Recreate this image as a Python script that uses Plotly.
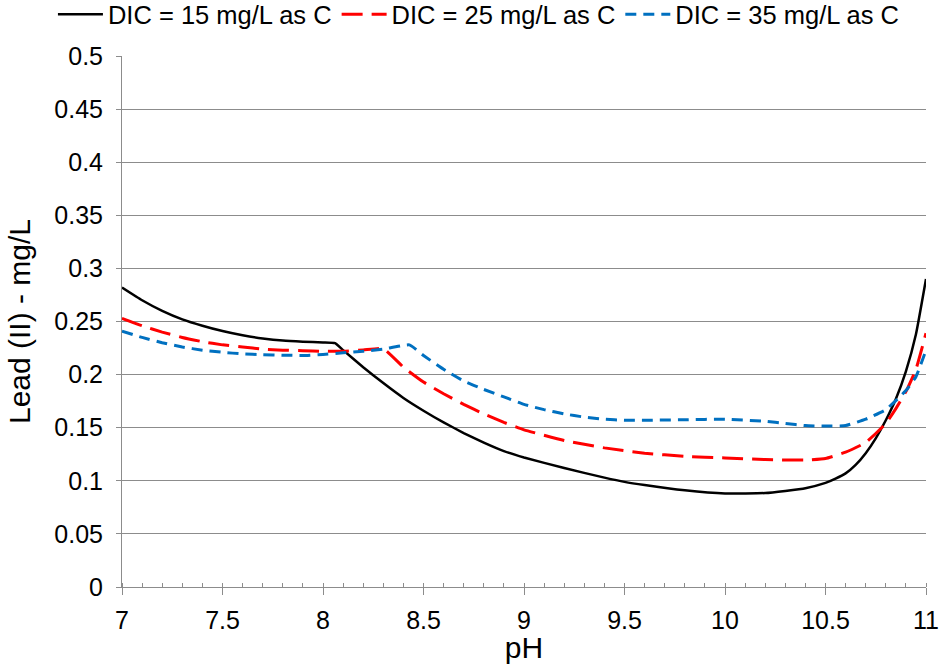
import plotly.graph_objects as go

ph_15 = [7.0, 7.1, 7.2, 7.3, 7.4, 7.5, 7.6, 7.7, 7.8, 7.9, 8.0, 8.06, 8.1, 8.2, 8.3, 8.4, 8.5, 8.6, 8.7,
         8.8, 8.9, 9.0, 9.2, 9.4, 9.5, 9.6, 9.8, 10.0, 10.2, 10.3, 10.4, 10.5, 10.55, 10.6, 10.65, 10.7,
         10.75, 10.8, 10.85, 10.9, 10.95, 11.0]
pb_15 = [0.282, 0.270, 0.260, 0.252, 0.246, 0.241, 0.237, 0.234, 0.232, 0.231, 0.2303, 0.2296, 0.223,
         0.207, 0.192, 0.178, 0.166, 0.155, 0.145, 0.136, 0.128, 0.122, 0.112, 0.103, 0.099, 0.096,
         0.091, 0.088, 0.0885, 0.0905, 0.093, 0.098, 0.102, 0.107, 0.115, 0.126, 0.140, 0.157, 0.177,
         0.203, 0.238, 0.290]

ph_25 = [7.0, 7.1, 7.2, 7.3, 7.4, 7.5, 7.6, 7.7, 7.8, 7.9, 8.0, 8.1, 8.2, 8.3, 8.4, 8.5, 8.6, 8.7, 8.8,
         8.9, 9.0, 9.2, 9.4, 9.6, 9.8, 10.0, 10.2, 10.4, 10.5, 10.6, 10.7, 10.8, 10.85, 10.9, 10.95, 11.0]
pb_25 = [0.253, 0.246, 0.240, 0.235, 0.231, 0.228, 0.226, 0.224, 0.223, 0.2225, 0.222, 0.222, 0.2232,
         0.2245, 0.207, 0.193, 0.182, 0.172, 0.163, 0.155, 0.148, 0.138, 0.131, 0.126, 0.123, 0.1215,
         0.120, 0.1195, 0.121, 0.127, 0.136, 0.154, 0.168, 0.184, 0.205, 0.239]

ph_35 = [7.0, 7.1, 7.2, 7.3, 7.4, 7.5, 7.6, 7.7, 7.8, 7.9, 8.0, 8.1, 8.2, 8.3, 8.43, 8.5, 8.6, 8.7, 8.8,
         8.9, 9.0, 9.1, 9.2, 9.3, 9.4, 9.5, 9.6, 9.8, 10.0, 10.2, 10.3, 10.4, 10.5, 10.6, 10.7, 10.8,
         10.9, 10.95, 11.0]
pb_35 = [0.241, 0.235, 0.230, 0.226, 0.223, 0.221, 0.2195, 0.2188, 0.2183, 0.218, 0.219, 0.2205, 0.222,
         0.224, 0.228, 0.218, 0.205, 0.194, 0.186, 0.179, 0.172, 0.167, 0.163, 0.160, 0.158, 0.157,
         0.157, 0.1575, 0.158, 0.156, 0.154, 0.152, 0.1515, 0.152, 0.158, 0.167, 0.185, 0.198, 0.223]

names = ["DIC = 15 mg/L as C", "DIC = 25 mg/L as C", "DIC = 35 mg/L as C"]

font = "Liberation Sans, Arial, sans-serif"
grid = "#8c8c8c"
fs = 25

fig = go.Figure()
fig.add_trace(go.Scatter(x=ph_15, y=pb_15, mode="lines", name=names[0],
                         line=dict(color="black", width=2.5, shape="spline", smoothing=0.4)))
fig.add_trace(go.Scatter(x=ph_25, y=pb_25, mode="lines", name=names[1],
                         line=dict(color="#ff0000", width=3, dash="21px,9px", shape="spline",
                                   smoothing=0.4)))
fig.add_trace(go.Scatter(x=ph_35, y=pb_35, mode="lines", name=names[2],
                         line=dict(color="#0070c0", width=3, dash="11px,7px", shape="spline",
                                   smoothing=0.4)))

fig.update_layout(
    width=941, height=664,
    margin=dict(l=122, r=15, t=56, b=77, autoexpand=False),
    paper_bgcolor="white", plot_bgcolor="white",
    font=dict(family=font, size=fs, color="black"),
    showlegend=True,
    legend=dict(orientation="h", xref="paper", yref="paper", x=-0.0859, y=1.122,
                xanchor="left", yanchor="top", font=dict(size=25.5),
                itemwidth=45, tracegroupgap=0, bgcolor="rgba(0,0,0,0)"),
    xaxis=dict(range=[7, 11], dtick=0.5, tick0=7, showgrid=False, showline=True,
               linecolor=grid, linewidth=1, ticks="outside", ticklen=7, tickcolor=grid,
               minor=dict(ticks="inside", dtick=0.1, tick0=7, ticklen=4, tickcolor=grid),
               zeroline=False, title=dict(text="pH", standoff=10), tickfont=dict(size=fs),
               ticklabelstandoff=4, automargin=False),
    yaxis=dict(range=[0, 0.5], dtick=0.05, tick0=0, showgrid=True, gridcolor=grid, gridwidth=1,
               showline=True, linecolor=grid, linewidth=1, ticks="outside", ticklen=5,
               tickcolor=grid, zeroline=False, title=dict(text="Lead (II) - mg/L", standoff=14),
               tickfont=dict(size=fs), ticklabelstandoff=8, automargin=False),
)

fig.write_html("out.html")
